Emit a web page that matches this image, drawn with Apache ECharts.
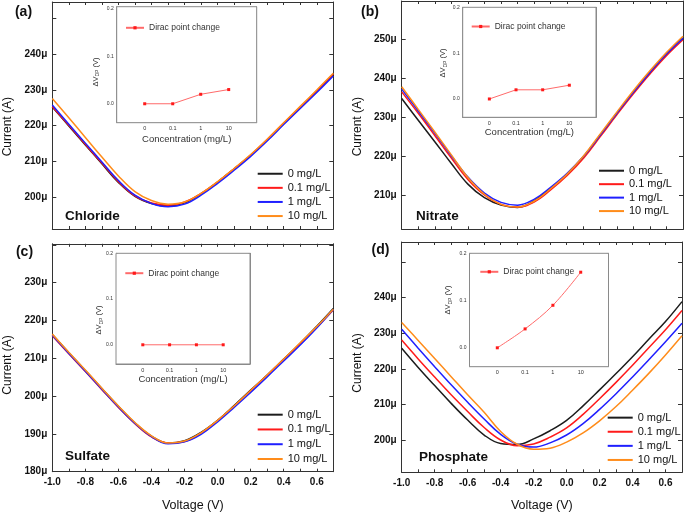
<!DOCTYPE html>
<html>
<head>
<meta charset="utf-8">
<script src="https://cdn.jsdelivr.net/npm/echarts@6/dist/echarts.min.js"></script>
<style>html,body{margin:0;padding:0;background:#fff}#c{width:685px;height:513px}</style>
</head>
<body>
<div id="c"></div>
<script>
// ---------- DATA ----------
const volts = [-1.0,-0.9,-0.8,-0.7,-0.6,-0.5,-0.4,-0.3,-0.2,-0.1,0.0,0.1,0.2,0.3,0.4,0.5,0.6,0.7];
const seriesNames = ['0 mg/L','0.1 mg/L','1 mg/L','10 mg/L'];

const chloride0   = [225.2,219.9,214.6,209.3,204.1,200.2,198.2,197.5,198.4,200.9,204.2,207.9,211.7,216.0,220.6,225.1,229.6,234.2];
const chloride01  = [225.4,220.1,214.8,209.5,204.3,200.3,198.3,197.7,198.6,201.0,204.2,207.9,211.7,216.1,220.7,225.2,229.8,234.5];
const chloride1   = [225.8,220.4,215.1,209.8,204.6,200.5,198.2,197.3,198.0,200.5,203.8,207.5,211.4,215.7,220.3,224.8,229.3,233.9];
const chloride10  = [227.6,222.2,216.7,211.2,205.9,201.5,199.0,198.0,198.6,201.0,204.3,208.0,211.9,216.2,220.8,225.4,230.0,234.7];

const nitrate0    = [234.8,229.2,223.7,218.1,212.8,209.3,207.4,206.8,208.5,211.7,215.4,219.9,225.4,231.0,236.4,241.5,246.2,250.3];
const nitrate01   = [236.5,231.0,225.3,219.5,214.0,210.0,207.6,206.9,208.2,211.3,215.0,219.5,225.0,230.6,236.0,241.1,245.8,249.9];
const nitrate1    = [237.2,231.6,225.9,220.1,214.6,210.5,208.1,207.4,208.9,212.0,215.6,220.0,225.4,231.0,236.4,241.5,246.2,250.3];
const nitrate10   = [237.8,232.0,226.2,220.3,214.5,210.2,207.6,206.9,208.4,211.6,215.4,220.1,225.7,231.3,236.8,241.9,246.6,250.8];

const sulfate0    = [216.3,211.5,206.8,202.0,197.3,192.9,189.4,187.6,188.2,190.4,193.6,197.5,201.6,205.6,209.8,214.0,218.5,223.2];
const sulfate01   = [216.0,211.2,206.5,201.7,197.0,192.7,189.2,187.6,188.0,190.2,193.5,197.3,201.4,205.5,209.7,213.8,218.2,222.8];
const sulfate1    = [216.1,211.3,206.6,201.8,197.1,192.8,189.3,187.4,187.9,189.9,193.2,197.0,201.0,205.1,209.3,213.5,218.0,222.9];
const sulfate10   = [216.4,211.6,206.9,202.1,197.4,193.0,189.5,187.6,188.1,190.3,193.6,197.4,201.5,205.6,209.8,214.1,218.4,223.0];

const phosphate0  = [225.8,220.4,215.3,210.3,205.6,201.4,199.0,198.7,200.3,202.6,205.5,209.6,214.1,218.7,223.4,228.4,233.3,238.9];
const phosphate01 = [228.1,222.8,217.7,212.7,208.0,203.5,200.0,198.4,198.9,200.8,203.4,207.2,211.6,216.2,221.0,226.0,231.0,236.4];
const phosphate1  = [231.1,225.8,220.6,215.5,210.6,205.9,201.6,198.8,198.0,199.2,201.4,204.6,208.6,213.0,217.7,222.6,227.6,232.8];
const phosphate10 = [233.0,228.0,222.9,217.8,212.7,207.8,202.4,198.8,197.4,197.7,199.4,202.0,205.4,209.4,214.0,218.8,223.9,229.3];

const panelNames = ['Chloride','Nitrate','Sulfate','Phosphate'];
const panelLetters = ['(a)','(b)','(c)','(d)'];

const concLabels = ['0','0.1','1','10'];
const dvChloride  = [0, 0, 0.02, 0.03];
const dvNitrate   = [0, 0.02, 0.02, 0.03];
const dvSulfate   = [0, 0, 0, 0];
const dvPhosphate = [0, 0.04, 0.09, 0.16];
const insetLegend = 'Dirac point change';

const yLabelsA = [200,210,220,230,240], yTicksA = [200,210,220,230,240,250];
const yLabelsB = [210,220,230,240,250], yTicksB = [210,220,230,240,250];
const yLabelsC = [180,190,200,210,220,230], yTicksC = [180,190,200,210,220,230,240];
const yLabelsD = [200,210,220,230,240], yTicksD = [200,210,220,230,240,250];
const insetYTicks = [0, 0.1, 0.2];
const insetXTicks = [0, 1, 2, 3];

// ---------- LAYOUT ----------
const FONT = 'Liberation Sans, Arial, sans-serif';
const colors = ['#1c1c1c','#ff1a1a','#1f1fff','#ff8c1a'];
const panels = [
  {grid:{left:52.3, top:2, width:281, height:227}, yMin:191.03, yMax:254.66, yl:yLabelsA, yt:yTicksA, data:[chloride0,chloride01,chloride1,chloride10], showX:false,
   legend:{left:256.7, top:166.7, ih:14.1}, inset:{left:116.7, top:6.7, width:140, height:116}, iyMax:0.205, iyMin:-0.04, dv:dvChloride, conc:true, cGap:11.5, smooth:false,
   ileg:{left:125, top:23.3}, dvPos:[95.5,72], letter:[23.5,12.3], name:[65,216], cur:[7.5,126.7]},
  {grid:{left:401.7, top:1, width:281.3, height:228.3}, yMin:201.19, yMax:259.84, yl:yLabelsB, yt:yTicksB, data:[nitrate0,nitrate01,nitrate1,nitrate10], showX:false,
   legend:{left:598, top:164, ih:13.45}, inset:{left:462.7, top:7.3, width:133.3, height:110}, iyMax:0.2, iyMin:-0.04, dv:dvNitrate, conc:true, cGap:10.3, smooth:false,
   ileg:{left:470.7, top:22}, dvPos:[443,63], letter:[370,12], name:[416,216], cur:[357.5,126.7]},
  {grid:{left:52.3, top:243.8, width:281, height:227.9}, yMin:180, yMax:240.3, yl:yLabelsC, yt:yTicksC, data:[sulfate0,sulfate01,sulfate1,sulfate10], showX:true, xGap:27,
   legend:{left:256.7, top:407.3, ih:14.77}, inset:{left:116, top:253.3, width:134, height:110.7}, iyMax:0.2, iyMin:-0.042, dv:dvSulfate, conc:true, cGap:10, smooth:false,
   ileg:{left:124.3, top:268.7}, dvPos:[99,320], letter:[24.5,251.7], name:[65,456.7], cur:[7.5,365]},
  {grid:{left:401.7, top:242, width:281.3, height:230.3}, yMin:190.92, yMax:255.66, yl:yLabelsD, yt:yTicksD, data:[phosphate0,phosphate01,phosphate1,phosphate10], showX:true, xGap:26.5,
   legend:{left:606.7, top:410.6, ih:14.1}, inset:{left:469.5, top:253.3, width:139, height:113.4}, iyMax:0.2, iyMin:-0.04, dv:dvPhosphate, conc:false, smooth:0.35,
   ileg:{left:479.3, top:267.3}, dvPos:[448,300], letter:[380.5,250], name:[419,457.3], cur:[357.5,363]}
];

const grids=[], xAxes=[], yAxes=[], series=[], legends=[], graphics=[];
const lineC = '#333';
const noSplit = {show:false};
const fmtX = v => { const t = Math.round(v*10); return (t % 2 === 0) ? (t/10).toFixed(1) : ''; };

panels.forEach((p,i) => {
  grids.push(Object.assign({show:false}, p.grid));
});
panels.forEach((p,i) => {
  grids.push(Object.assign({show:true, borderColor:'#8a8a8a', borderWidth:1, backgroundColor:'#fff', z:5}, p.inset));
});

panels.forEach((p,i) => {
  xAxes.push({gridIndex:i, type:'value', position:'bottom', min:-1, max:0.7, interval:0.1,
    axisLine:{onZero:false, lineStyle:{color:lineC,width:1}},
    axisTick:{inside:true, length:3, lineStyle:{color:lineC}},
    axisLabel:{show:p.showX, formatter:fmtX, fontSize:10, fontWeight:'bold', color:'#111', fontFamily:FONT, margin:6},
    splitLine:noSplit,
    name: p.showX ? 'Voltage (V)' : '', nameLocation:'middle', nameGap:p.xGap||20,
    nameTextStyle:{fontSize:12.5, color:'#111', fontFamily:FONT}});
  xAxes.push({gridIndex:i, type:'value', position:'top', min:-1, max:0.7, interval:0.1,
    axisLine:{onZero:false, lineStyle:{color:lineC,width:1}},
    axisTick:{inside:true, length:3, lineStyle:{color:lineC}},
    axisLabel:{show:false}, splitLine:noSplit});
  yAxes.push({gridIndex:i, type:'value', position:'left', min:p.yMin, max:p.yMax,
    axisLine:{show:true, onZero:false, lineStyle:{color:lineC,width:1}},
    axisTick:{show:true, inside:true, length:4, customValues:p.yt, lineStyle:{color:lineC}},
    axisLabel:{customValues:p.yl, formatter:v => v + 'μ', fontSize:10, fontWeight:'bold', color:'#111', fontFamily:FONT, margin:5},
    splitLine:noSplit});
  yAxes.push({gridIndex:i, type:'value', position:'right', min:p.yMin, max:p.yMax,
    axisLine:{show:true, onZero:false, lineStyle:{color:lineC,width:1}},
    axisTick:{show:true, inside:true, length:4, customValues:p.yt, lineStyle:{color:lineC}},
    axisLabel:{show:false}, splitLine:noSplit});
});
panels.forEach((p,i) => {
  xAxes.push({gridIndex:4+i, type:'value', position:'bottom', min:-1, max:4,
    axisLine:{onZero:false, lineStyle:{color:'#8a8a8a',width:1}},
    axisTick:{inside:true, length:2, customValues:insetXTicks, lineStyle:{color:'#777'}},
    axisLabel:{customValues:insetXTicks, formatter:v => concLabels[Math.round(v)], fontSize:5.5, color:'#333', fontFamily:FONT, margin:3},
    splitLine:noSplit,
    name: p.conc ? 'Concentration (mg/L)' : '', nameLocation:'middle', nameGap:p.cGap||10,
    nameTextStyle:{fontSize:9.5, color:'#333', fontFamily:FONT}});
  yAxes.push({gridIndex:4+i, type:'value', position:'left', min:p.iyMin, max:p.iyMax,
    axisLine:{show:true, onZero:false, lineStyle:{color:'#8a8a8a',width:1}},
    axisTick:{show:true, inside:true, length:2, customValues:insetYTicks, lineStyle:{color:'#777'}},
    axisLabel:{customValues:insetYTicks, formatter:v => v.toFixed(1), fontSize:5, color:'#333', fontFamily:FONT, margin:3},
    splitLine:noSplit});
  yAxes.push({gridIndex:4+i, type:'value', position:'right', min:p.iyMin, max:p.iyMax,
    axisLine:{show:true, onZero:false, lineStyle:{color:'#8a8a8a',width:1}},
    axisTick:{show:true, inside:true, length:2, customValues:insetYTicks, lineStyle:{color:'#777'}},
    axisLabel:{show:false}, splitLine:noSplit});
});

panels.forEach((p,i) => {
  p.data.forEach((arr,k) => {
    series.push({name:seriesNames[k], type:'line', xAxisIndex:2*i, yAxisIndex:2*i,
      data: volts.map((v,j) => [v, arr[j]]), smooth:0.4, showSymbol:false, symbol:'none',
      lineStyle:{width:1.5, color:colors[k]}, itemStyle:{color:colors[k]}, z:2+k, animation:false});
  });
  series.push({name:insetLegend, type:'line', xAxisIndex:8+i, yAxisIndex:8+2*i,
    data: p.dv.map((v,j) => [j, v]), smooth:p.smooth, symbol:'rect', symbolSize:3, showSymbol:true,
    lineStyle:{width:1, color:'#ff6a6a'}, itemStyle:{color:'#ff1a1a'}, z:10, animation:false});
  legends.push({orient:'vertical', left:p.legend.left, top:p.legend.top, padding:0, itemGap:0,
    itemWidth:25, itemHeight:p.legend.ih, data:seriesNames, selectedMode:false,
    itemStyle:{opacity:0}, lineStyle:{width:2},
    textStyle:{fontSize:11, lineHeight:p.legend.ih, color:'#111', fontFamily:FONT}});
  legends.push({orient:'vertical', left:p.ileg.left, top:p.ileg.top, padding:0, itemGap:0,
    itemWidth:18, itemHeight:4, data:[insetLegend], selectedMode:false, z:20,
    textStyle:{fontSize:8.5, color:'#333', fontFamily:FONT}});
  graphics.push({type:'text', x:p.letter[0], y:p.letter[1], z:30,
    style:{text:panelLetters[i], font:'bold 14px ' + FONT, fill:'#111', align:'center', verticalAlign:'middle'}});
  graphics.push({type:'text', x:p.name[0], y:p.name[1], z:30,
    style:{text:panelNames[i], font:'bold 13.5px ' + FONT, fill:'#111', align:'left', verticalAlign:'middle'}});
  graphics.push({type:'text', x:p.cur[0], y:p.cur[1], rotation:Math.PI/2, z:30,
    style:{text:'Current (A)', font:'12px ' + FONT, fill:'#111', align:'center', verticalAlign:'middle'}});
  graphics.push({type:'text', x:p.dvPos[0], y:p.dvPos[1], rotation:Math.PI/2, z:30,
    style:{text:'{a|ΔV}{b|DP}{a| (V)}', align:'center', verticalAlign:'middle',
      rich:{a:{fontSize:7.5, fontFamily:FONT, fill:'#333', lineHeight:10, verticalAlign:'middle'},
            b:{fontSize:5, fontFamily:FONT, fill:'#333', lineHeight:10, verticalAlign:'bottom', padding:[3,0,0,0]}}}});
});

const chart = echarts.init(document.getElementById('c'), null, {renderer:'canvas'});
chart.setOption({
  backgroundColor:'#fff', animation:false,
  grid:grids, xAxis:xAxes, yAxis:yAxes, series:series, legend:legends, graphic:graphics
});
</script>
</body>
</html>
